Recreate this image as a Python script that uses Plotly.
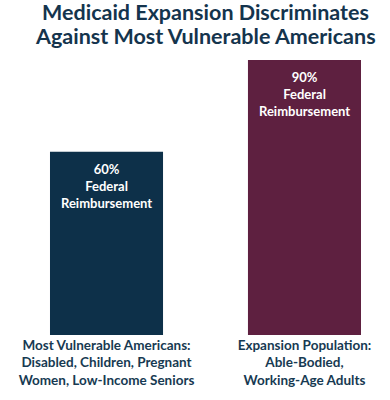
import plotly.graph_objects as go

categories = ["Most Vulnerable Americans:<br>Disabled, Children, Pregnant<br>Women, Low-Income Seniors",
              "Expansion Population:<br>Able-Bodied,<br>Working-Age Adults"]
values = [60, 90]
bar_labels = ["60%<br>Federal<br>Reimbursement", "90%<br>Federal<br>Reimbursement"]
title_lines = ["Medicaid Expansion Discriminates", "Against Most Vulnerable Americans"]
colors = ["#0d3049", "#5e2040"]

x = [0, 1]
fig = go.Figure()
fig.add_trace(go.Bar(x=x, y=values, width=0.571, marker=dict(color=colors, line=dict(width=0)),
                     hoverinfo="skip"))

for xi, v, t in zip(x, values, bar_labels):
    fig.add_annotation(x=xi, y=v, text=t, showarrow=False, yanchor="top", yshift=-7,
                       font=dict(family="Lato", size=13, color="white", weight="bold"))

for yy, t in zip([1.1745, 1.087], title_lines):
    fig.add_annotation(xref="paper", yref="paper", x=0.528, y=yy, text=t, showarrow=False,
                       xanchor="center", yanchor="middle",
                       font=dict(family="Lato", size=21.5, color="#14344d", weight="bold"))

fig.update_layout(
    width=390, height=400,
    margin=dict(l=0, r=0, t=60, b=65),
    paper_bgcolor="white", plot_bgcolor="white",
    showlegend=False,
    xaxis=dict(range=[-0.538, 1.432], tickvals=x, ticktext=categories, showgrid=False,
               zeroline=False, showline=False, ticks="", automargin=False,
               tickfont=dict(family="Lato", size=13.5, color="#173a52", weight="bold")),
    yaxis=dict(range=[0, 90], visible=False, showgrid=False, automargin=False),
)
fig.write_html("out.html", config={"displayModeBar": False},
               post_script="document.body.style.margin='0';")
